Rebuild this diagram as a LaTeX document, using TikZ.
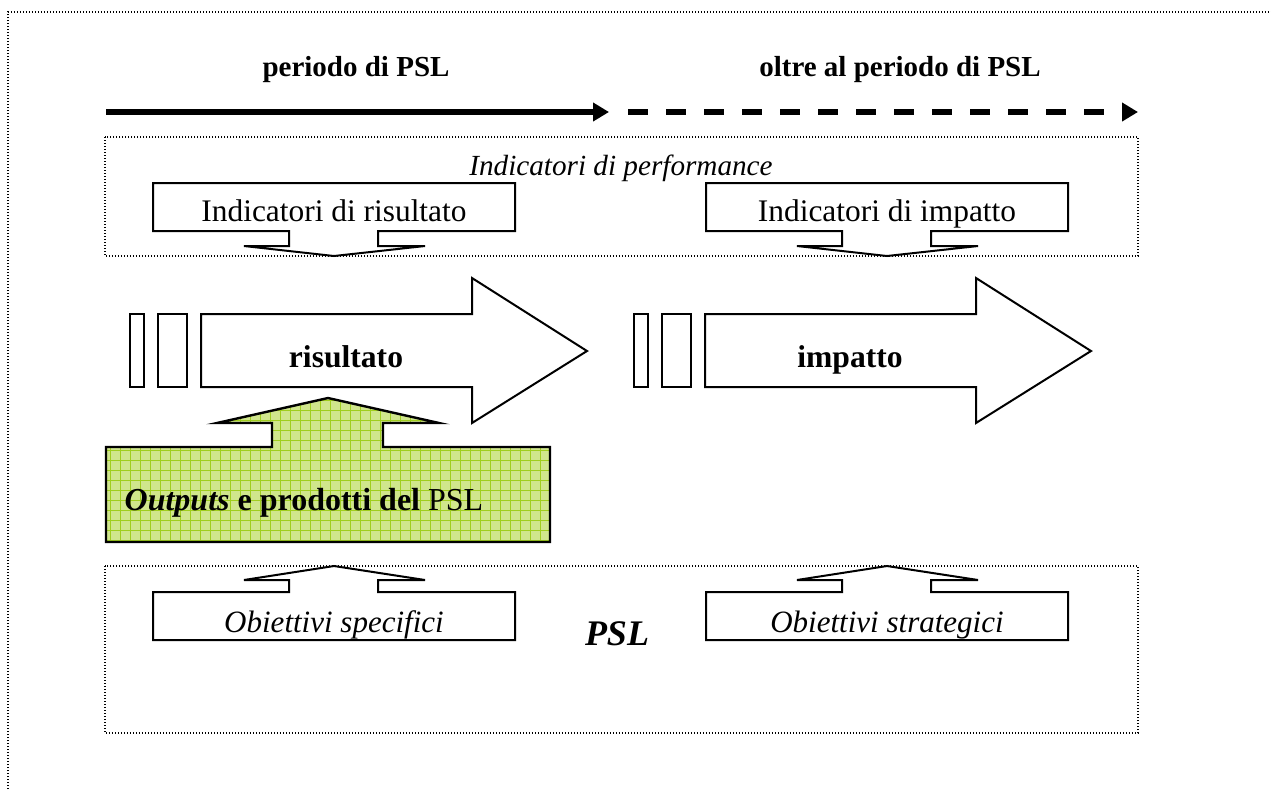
\documentclass[tikz,border=0pt]{standalone}
\usepackage{fontspec}
\setmainfont{Liberation Serif}
\usepackage{xcolor}
\usepackage{tikz}
\usetikzlibrary{arrows.meta}

\definecolor{greenfill}{RGB}{208,230,140}
\definecolor{gridgreen}{RGB}{160,206,30}

\begin{document}
\begin{tikzpicture}[x=0.5pt,y=-0.5pt,
	frameline/.style={line width=0.7pt,dash pattern=on 0.7pt off 0.8pt},
	dotbox/.style={line width=0.6pt,dash pattern=on 0.6pt off 0.9pt},
	timeline/.style={line width=2.75pt,-{Triangle[length=8pt,width=9pt]}},
	callout/.style={line width=1pt,fill=white},
	blockarrow/.style={line width=1pt},
	txt/.style={anchor=base,inner sep=0pt}]
		\useasboundingbox (0,0) rectangle (1271,789);
		\draw[frameline] (8,789) -- (8,12) -- (1271,12);
		
		% periodo
		\node[txt,font=\fontsize{14.5}{17}\selectfont\bfseries] (periodo) at (356,76) {periodo di PSL};
		\node[txt,font=\fontsize{14.5}{17}\selectfont\bfseries] (oltre) at (900,76) {oltre al periodo di PSL};
		\coordinate (t0) at (106,112);
		\coordinate (t1) at (609,112);
		\coordinate (t2) at (628,112);
		\coordinate (t3) at (1138,112);
		\draw[timeline] (t0) -- (t1);
		\draw[timeline,dash pattern=on 10pt off 9pt] (t2) -- (t3);
		
		% indicatori
		\draw[dotbox] (105,137) rectangle (1138,256);
		\node[txt,font=\fontsize{14.6}{17}\selectfont\itshape] (perf) at (621,175) {Indicatori di performance};
		\draw[callout] (153,183) -- (515,183) -- (515,231) -- (378,231) -- (378,246) -- (425,246) -- (334,256) -- (244,246) -- (289,246) -- (289,231) -- (153,231) -- cycle;
		\draw[callout] (706,183) -- (1068,183) -- (1068,231) -- (931,231) -- (931,246) -- (978,246) -- (887,256) -- (797,246) -- (842,246) -- (842,231) -- (706,231) -- cycle;
		\node[txt,font=\fontsize{15.7}{18}\selectfont] (indris) at (334,221) {Indicatori di risultato};
		\node[txt,font=\fontsize{15.7}{18}\selectfont] (indimp) at (887,221) {Indicatori di impatto};
		
		% frecce
		\draw[blockarrow] (130,314) rectangle (144,387);
		\draw[blockarrow] (158,314) rectangle (187,387);
		\draw[blockarrow] (201,314) -- (472,314) -- (472,278) -- (587,351) -- (472,423) -- (472,387) -- (201,387) -- cycle;
		\draw[blockarrow] (634,314) rectangle (648,387);
		\draw[blockarrow] (662,314) rectangle (691,387);
		\draw[blockarrow] (705,314) -- (976,314) -- (976,278) -- (1091,351) -- (976,423) -- (976,387) -- (705,387) -- cycle;
		\node[txt,font=\fontsize{15.8}{18}\selectfont\bfseries] (ris) at (346,367) {risultato};
		\node[txt,font=\fontsize{15.8}{18}\selectfont\bfseries] (imp) at (850,367) {impatto};
		
		% outputs
		\begin{scope}
			\clip (106,447) -- (272,447) -- (272,423) -- (217,423) -- (328,398) -- (439,423) -- (383,423) -- (383,447) -- (550,447) -- (550,542) -- (106,542) -- cycle;
			\fill[greenfill] (100,390) rectangle (560,550);
			\draw[gridgreen,line width=0.5pt,step=5pt] (100,390) grid (560,550);
		\end{scope}
		\draw[blockarrow,line width=1.2pt] (106,447) -- (272,447) -- (272,423) -- (217,423) -- (328,398) -- (439,423) -- (383,423) -- (383,447) -- (550,447) -- (550,542) -- (106,542) -- cycle;
		\node[txt,font=\fontsize{16}{19}\selectfont] (outp) at (304,510) {\textbf{\textit{Outputs}} \textbf{e prodotti del} PSL};
		
		% obiettivi
		\draw[dotbox] (105,566) rectangle (1138,733);
		\draw[callout] (153,640) -- (515,640) -- (515,592) -- (378,592) -- (378,580) -- (425,580) -- (334,566) -- (244,580) -- (289,580) -- (289,592) -- (153,592) -- cycle;
		\draw[callout] (706,640) -- (1068,640) -- (1068,592) -- (931,592) -- (931,580) -- (978,580) -- (887,566) -- (797,580) -- (842,580) -- (842,592) -- (706,592) -- cycle;
		\node[txt,font=\fontsize{15.5}{18}\selectfont\itshape] (obspec) at (334,632) {Obiettivi specifici};
		\node[txt,font=\fontsize{15.5}{18}\selectfont\itshape] (obstrat) at (887,632) {Obiettivi strategici};
		\node[txt,font=\fontsize{18}{21}\selectfont\bfseries\itshape] (psl) at (617,645) {PSL};
	\end{tikzpicture}
\end{document}
